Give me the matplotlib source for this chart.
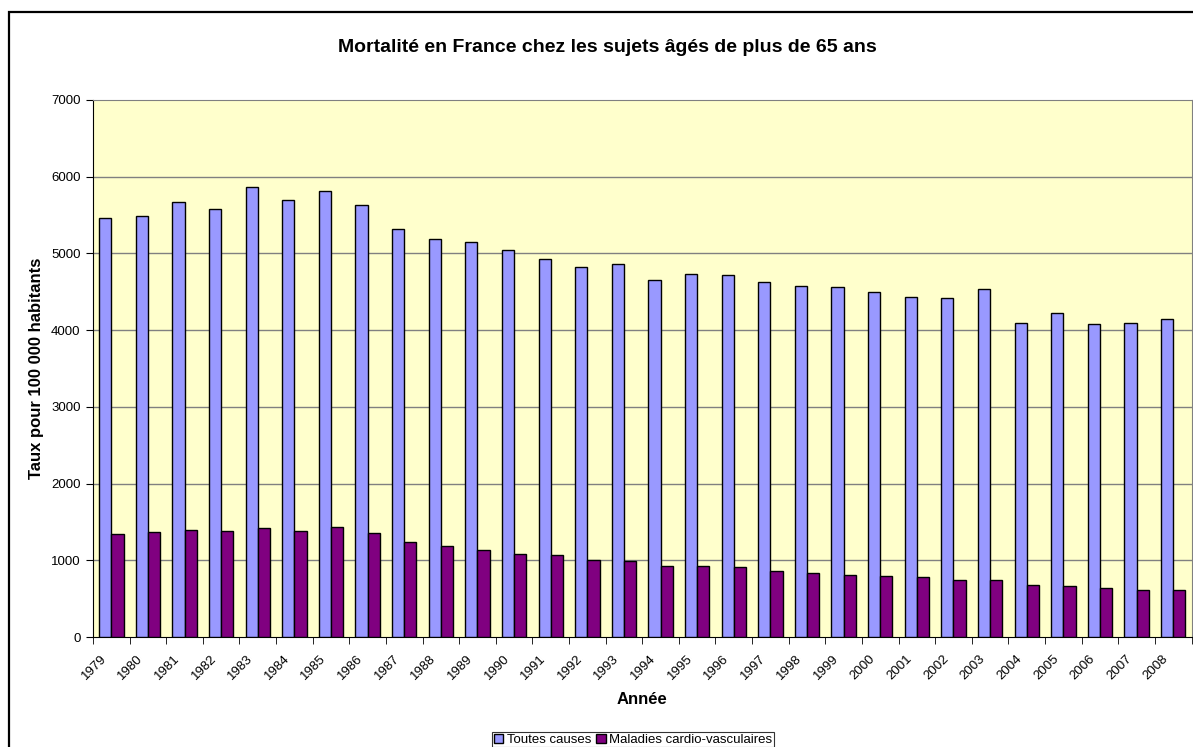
"""Mortalité en France chez les sujets âgés de plus de 65 ans."""
import matplotlib
matplotlib.use("Agg")
import matplotlib.pyplot as plt
import matplotlib.transforms as mtransforms
import numpy as np
from matplotlib.patches import Rectangle

years = [str(y) for y in range(1979, 2009)]
toutes_causes = [5459, 5493, 5667, 5584, 5871, 5698, 5815, 5636, 5316, 5189,
                 5150, 5041, 4928, 4820, 4859, 4659, 4733, 4724, 4629, 4576,
                 4563, 4502, 4433, 4424, 4541, 4098, 4224, 4077, 4090, 4150]
cardio = [1347, 1373, 1399, 1382, 1417, 1386, 1434, 1360, 1243, 1186,
          1138, 1086, 1069, 1008, 991, 926, 922, 909, 864, 830,
          808, 799, 778, 747, 743, 678, 669, 635, 613, 609]
y_ticks = [0, 1000, 2000, 3000, 4000, 5000, 6000, 7000]

plt.rcParams["font.family"] = ["Liberation Sans", "DejaVu Sans"]

W, H = 1193, 747
fig = plt.figure(figsize=(W / 100, H / 100), dpi=100)
fig.patch.set_facecolor("white")

# outer chart border (runs off the right and bottom edges)
fig.patches.append(Rectangle((9 / W, -0.02), 1.05, 1 - 12 / H + 0.02,
                             transform=fig.transFigure, fill=False,
                             edgecolor="black", linewidth=1.6, clip_on=False))

left, right, top, bottom = 93, 1191.5, 100, 637
ax = fig.add_axes([left / W, 1 - bottom / H, (right - left) / W, (bottom - top) / H])
ax.set_facecolor("#FFFFCC")

x = np.arange(len(years))
w = 1 / 3
ax.bar(x - w / 2, toutes_causes, w, color="#9999FF", edgecolor="black",
       linewidth=1.0, label="Toutes causes", zorder=3)
ax.bar(x + w / 2, cardio, w, color="#800080", edgecolor="black",
       linewidth=1.0, label="Maladies cardio-vasculaires", zorder=3)

ax.set_xlim(-0.5, len(years) - 0.5)
ax.set_ylim(0, 7000)
ax.set_yticks(y_ticks)
ax.set_yticklabels([str(t) for t in y_ticks], fontsize=9.5)
for t in y_ticks[1:-1]:
    ax.axhline(t, color="#808080", linewidth=1.0, zorder=1)

ax.set_xticks(x)
ax.set_xticklabels(years, rotation=45, ha="right", va="top", fontsize=9.5,
                   rotation_mode="anchor")
ax.tick_params(axis="x", which="major", length=0, pad=11)
shift = mtransforms.ScaledTranslation(-11 / 100, 0, fig.dpi_scale_trans)
for lbl in ax.get_xticklabels():
    lbl.set_transform(lbl.get_transform() + shift)
ax.set_xticks(np.arange(-0.5, len(years)), minor=True)
ax.tick_params(axis="x", which="minor", length=5, direction="out", color="black")
ax.tick_params(axis="y", length=5, direction="out", color="black", pad=4)

for side in ["top", "right"]:
    ax.spines[side].set_color("#808080")
ax.spines["left"].set_color("black")
ax.spines["bottom"].set_color("black")

ax.set_ylabel("Taux pour 100 000 habitants", fontsize=12, fontweight="bold", labelpad=5)
ax.set_xlabel("Année", fontsize=12, fontweight="bold", labelpad=7)

fig.text(607 / W, 1 - 47 / H,
         "Mortalité en France chez les sujets âgés de plus de 65 ans",
         ha="center", va="center", fontsize=14, fontweight="bold")

leg = fig.legend(loc="upper center", bbox_to_anchor=(633 / W, 1 - 732 / H), ncol=2,
                 fontsize=9.5, frameon=True, fancybox=False, edgecolor="black",
                 handlelength=0.7, handleheight=0.7, handletextpad=0.25,
                 columnspacing=0.4, borderpad=0.12, borderaxespad=0)
leg.get_frame().set_linewidth(0.8)

fig.savefig("out.png", dpi=100)
